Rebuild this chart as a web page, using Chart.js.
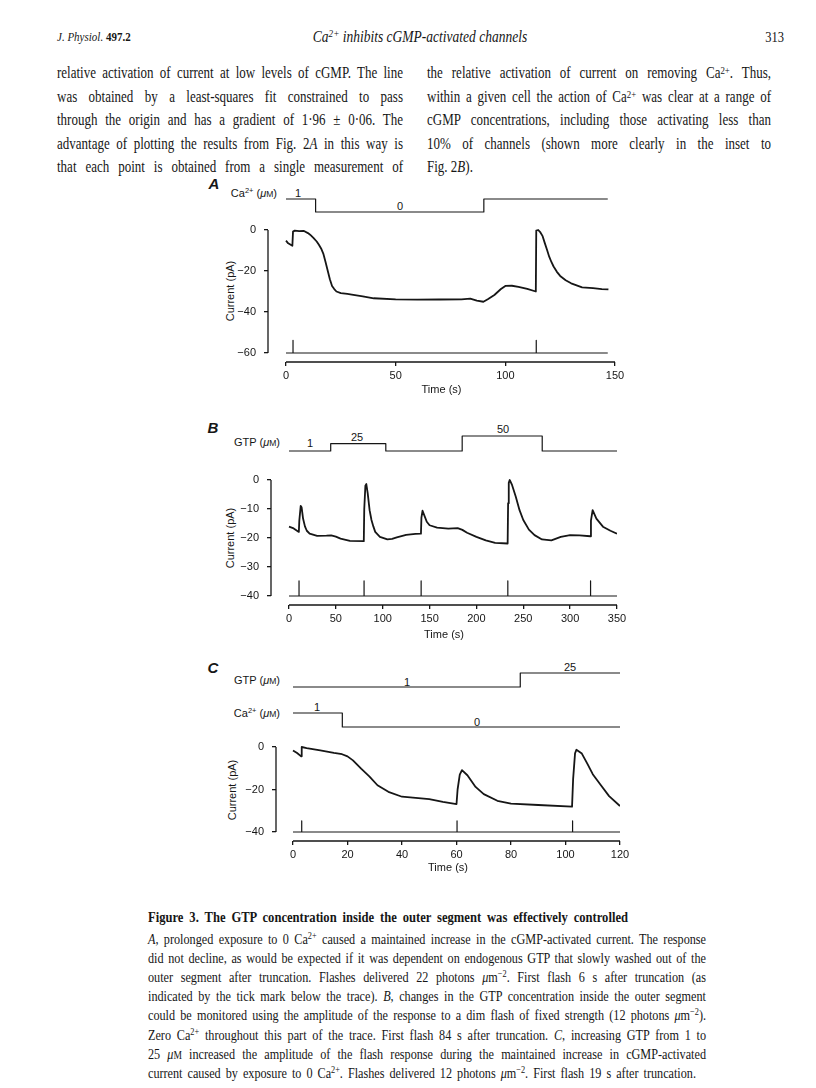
<!DOCTYPE html>
<html>
<head>
<meta charset="utf-8">
<script src="https://cdn.jsdelivr.net/npm/chart.js@4.4.1/dist/chart.umd.min.js"></script>
<style>
  body { margin: 0; background: #fff; }
  #page { position: relative; width: 816px; height: 1088px; overflow: hidden; background: #fff; color: #161616; }
  .serif { font-family: "Liberation Serif", "Times New Roman", serif; }
  .sans { font-family: "Liberation Sans", Arial, sans-serif; }
  .ln { position: absolute; white-space: nowrap; line-height: 1; transform: translateY(-50%); }
  .c { position: absolute; white-space: nowrap; line-height: 1; transform: translate(-50%, -50%); }
  .r { position: absolute; white-space: nowrap; line-height: 1; transform: translate(-100%, -50%); }
  .rot { position: absolute; white-space: nowrap; line-height: 1; transform: translate(-50%, -50%) rotate(-90deg); }
  .tall { transform: translateY(-50%) scaleY(1.22); }
  .tallc { transform: translate(-50%, -50%) scaleY(1.2); }
  .tallr { transform: translate(-100%, -50%) scaleY(1.2); }
  sup { font-size: 68%; vertical-align: 0.45em; line-height: 0; }
  .sm { font-size: 78%; }
  .panel { position: absolute; }
  .body { font-size: 13px; }
  .cap { font-size: 12.2px; }
  .lab { font-size: 11px; }
</style>
</head>
<body>
<div id="page">
  <!-- running head -->
  <div class="ln serif tall" style="left:57px;top:37px;font-size:11px"><i>J. Physiol.</i> <b>497.2</b></div>
  <div class="c serif tallc" style="left:420px;top:37px;font-size:13.5px"><i>Ca<sup>2+</sup> inhibits cGMP-activated channels</i></div>
  <div class="r serif tallr" style="left:784px;top:37px;font-size:12.5px">313</div>

  <!-- text columns -->
  <div class="ln serif body tall just" data-w="346" style="left:57px;top:73px">relative activation of current at low levels of cGMP. The line</div>
  <div class="ln serif body tall just" data-w="346" style="left:57px;top:96.5px">was obtained by a least-squares fit constrained to pass</div>
  <div class="ln serif body tall just" data-w="346" style="left:57px;top:120px">through the origin and has a gradient of 1·96 ± 0·06. The</div>
  <div class="ln serif body tall just" data-w="346" style="left:57px;top:143.5px">advantage of plotting the results from Fig. 2<i>A</i> in this way is</div>
  <div class="ln serif body tall just" data-w="346" style="left:57px;top:167px">that each point is obtained from a single measurement of</div>

  <div class="ln serif body tall just" data-w="344" style="left:427px;top:73px">the relative activation of current on removing Ca<sup>2+</sup>. Thus,</div>
  <div class="ln serif body tall just" data-w="344" style="left:427px;top:96.5px">within a given cell the action of Ca<sup>2+</sup> was clear at a range of</div>
  <div class="ln serif body tall just" data-w="344" style="left:427px;top:120px">cGMP concentrations, including those activating less than</div>
  <div class="ln serif body tall just" data-w="344" style="left:427px;top:143.5px">10% of channels (shown more clearly in the inset to</div>
  <div class="ln serif body tall" style="left:427px;top:167px">Fig. 2<i>B</i>).</div>

  <!-- panel A -->
  <div class="c sans" style="left:214px;top:183px;font-size:15px;font-style:italic;font-weight:bold">A</div>
  <div class="r sans lab" style="left:277px;top:193px">Ca<sup>2+</sup> (<i>μ</i><span class="sm">M</span>)</div>
  <div class="c sans lab" style="left:298px;top:193px">1</div>
  <div class="c sans lab" style="left:400px;top:206px">0</div>
  <div class="rot sans lab" style="left:230px;top:291px">Current (pA)</div>
  <div class="panel" id="wrapA"><canvas id="chartA"></canvas></div>

  <!-- panel B -->
  <div class="c sans" style="left:213px;top:427px;font-size:15px;font-style:italic;font-weight:bold">B</div>
  <div class="r sans lab" style="left:280px;top:442px">GTP (<i>μ</i><span class="sm">M</span>)</div>
  <div class="c sans lab" style="left:310px;top:443px">1</div>
  <div class="c sans lab" style="left:357px;top:437px">25</div>
  <div class="c sans lab" style="left:503px;top:429px">50</div>
  <div class="rot sans lab" style="left:230px;top:538px">Current (pA)</div>
  <div class="panel" id="wrapB"><canvas id="chartB"></canvas></div>

  <!-- panel C -->
  <div class="c sans" style="left:213px;top:667px;font-size:15px;font-style:italic;font-weight:bold">C</div>
  <div class="r sans lab" style="left:280px;top:680px">GTP (<i>μ</i><span class="sm">M</span>)</div>
  <div class="c sans lab" style="left:407px;top:682px">1</div>
  <div class="c sans lab" style="left:570px;top:667px">25</div>
  <div class="r sans lab" style="left:280px;top:713px">Ca<sup>2+</sup> (<i>μ</i><span class="sm">M</span>)</div>
  <div class="c sans lab" style="left:317px;top:707px">1</div>
  <div class="c sans lab" style="left:477px;top:722px">0</div>
  <div class="rot sans lab" style="left:232px;top:790px">Current (pA)</div>
  <div class="panel" id="wrapC"><canvas id="chartC"></canvas></div>

  <!-- legend -->
  <div class="ln serif cap tall just" data-w="480" style="left:148px;top:917px;font-size:12.6px;font-weight:bold">Figure 3. The GTP concentration inside the outer segment was effectively controlled</div>
  <div class="ln serif cap tall just" data-w="558" style="left:148px;top:939px"><i>A</i>, prolonged exposure to 0 Ca<sup>2+</sup> caused a maintained increase in the cGMP-activated current. The response</div>
  <div class="ln serif cap tall just" data-w="558" style="left:148px;top:958.1px">did not decline, as would be expected if it was dependent on endogenous GTP that slowly washed out of the</div>
  <div class="ln serif cap tall just" data-w="558" style="left:148px;top:977.2px">outer segment after truncation. Flashes delivered 22 photons <i>μ</i>m<sup>−2</sup>. First flash 6 s after truncation (as</div>
  <div class="ln serif cap tall just" data-w="558" style="left:148px;top:996.3px">indicated by the tick mark below the trace). <i>B</i>, changes in the GTP concentration inside the outer segment</div>
  <div class="ln serif cap tall just" data-w="558" style="left:148px;top:1015.4px">could be monitored using the amplitude of the response to a dim flash of fixed strength (12 photons <i>μ</i>m<sup>−2</sup>).</div>
  <div class="ln serif cap tall just" data-w="558" style="left:148px;top:1034.5px">Zero Ca<sup>2+</sup> throughout this part of the trace. First flash 84 s after truncation. <i>C</i>, increasing GTP from 1 to</div>
  <div class="ln serif cap tall just" data-w="558" style="left:148px;top:1053.6px">25 <i>μ</i><span class="sm">M</span> increased the amplitude of the flash response during the maintained increase in cGMP-activated</div>
  <div class="ln serif cap tall just" data-w="548" style="left:148px;top:1072.7px">current caused by exposure to 0 Ca<sup>2+</sup>. Flashes delivered 12 photons <i>μ</i>m<sup>−2</sup>. First flash 19 s after truncation.</div>
</div>

<script>
// ---- data ----

// A: 0 Ca2+ exposure
const timeA = [0, 1, 2.9, 3.2, 4, 6, 8, 10, 11, 12.5, 14, 15, 16, 17, 18, 19, 20, 21, 22, 23,
  25, 28, 30, 35, 40, 50, 60, 70, 80, 84, 87, 90, 92, 95, 98, 100, 103, 106, 110, 113.9,
  114.1, 115, 116, 117, 118, 119, 120, 121, 122, 123.5, 125, 127.5, 130, 135, 140, 144, 147];
const currentA = [-5.2, -6.5, -7.7, -0.8, -0.3, -0.5, -0.4, -1.5, -2.3, -3.8, -5.6, -7.2, -9, -11.5, -15.5, -19.8, -24, -27.3, -28.8, -30,
  -30.8, -31.2, -31.5, -32.4, -33.3, -33.8, -34, -33.9, -33.8, -33.5, -34.5, -35, -33.8, -31.7, -28.8, -27.3, -27.2, -27.7, -28.7, -30,
  -0.3, 0, -1.2, -3, -6.4, -9.6, -13, -15.6, -17.8, -20.4, -22.4, -24.5, -26, -28, -28.4, -28.8, -29];
const flashA = [3.2, 114.1];
const caTimeA = [0, 13.5, 90.2, 146.7];
const caLevelA = [1, 0, 1, 1];
const xTicksA = [0, 50, 100, 150];
const yTicksA = [0, -20, -40, -60];

// B: GTP steps
const timeB = [0, 5, 10.5, 11, 12.5, 13.5, 15, 17, 19, 22, 30, 40, 45, 50, 55, 65, 79.8, 80.3, 81.5, 82.5,
  84, 86, 88, 90, 92, 97, 105, 110, 115, 125, 135, 140.8, 141.3, 142.5, 145, 147, 150, 158, 170, 180,
  185, 190, 200, 210, 220, 233.3, 233.8, 234.5, 235.5, 238, 242, 246, 250, 256, 262, 270, 280, 290, 300, 310,
  321.6, 322.2, 324, 328, 335, 343, 350];
const currentB = [-16.1, -16.7, -17.9, -14, -8.9, -9.5, -13.3, -16, -17.5, -18.5, -19.3, -19.2, -19.1, -19.5, -20.2, -21, -21.1, -10, -2, -1.4,
  -4.6, -10.4, -13.8, -16, -17.9, -19.6, -20.5, -20.3, -19.8, -18.9, -18.6, -18.5, -13, -10.6, -12.7, -14.4, -15.6, -16.4, -16.8, -16.6,
  -17.2, -18.2, -19.6, -20.8, -21.7, -21.9, -8, -1, 0, -1.7, -5.8, -10.4, -13.8, -17.1, -19, -20.5, -20.8, -19.6, -19, -19.1,
  -19.4, -14, -10.4, -13.3, -16.1, -17.5, -18.5];
const flashB = [10.7, 80.1, 141, 233.5, 321.8];
const gtpTimeB = [0, 44.5, 103.3, 184.8, 270.2, 350];
const gtpLevelB = [1, 25, 1, 50, 1, 1];
const xTicksB = [0, 50, 100, 150, 200, 250, 300, 350];
const yTicksB = [0, -10, -20, -30, -40];

// C: GTP raised during 0 Ca2+
const timeC = [0, 1.5, 3, 3.2, 5, 10, 15, 18, 20, 22, 25, 28, 31, 35, 40, 45, 50, 55, 60, 60.4,
  61.2, 62, 64, 67, 70, 75, 80, 90, 102.4, 102.8, 103.5, 104, 106, 108, 110, 113, 116, 120];
const currentC = [-1.6, -2.8, -4.4, 0, -0.5, -1.6, -2.8, -3.4, -4.4, -6.3, -10.2, -13.8, -18, -21.1, -23.4, -23.9, -24.5, -25.8, -26.9, -20,
  -13, -10.9, -13.3, -18.8, -22.2, -25.3, -26.6, -27.3, -28.1, -15, -3, -1.3, -3.1, -7.8, -12.8, -18, -23.1, -27.8];
const flashC = [3.2, 60.2, 102.6];
const gtpTimeC = [0, 83.4, 120];
const gtpLevelC = [1, 25, 25];
const caTimeC = [0, 18.1, 120];
const caLevelC = [1, 0, 0];
const xTicksC = [0, 20, 40, 60, 80, 100, 120];
const yTicksC = [0, -20, -40];

// ---- drawing ----
const INK = '#161616';
const FONT = { family: '"Liberation Sans", Arial, sans-serif', size: 11 };
const YW = 80, PT = 18, PR = 24, PB = 4;

// value range of a scale so that v1 lands on pixel p1 and v2 on p2,
// given the pixel edges pa / pb of the plot area
function span(v1, p1, v2, p2, pa, pb) {
  const k = (v2 - v1) / (p2 - p1);
  const a = v1 + (pa - p1) * k, b = v1 + (pb - p1) * k;
  return { min: Math.min(a, b), max: Math.max(a, b) };
}

function pairs(xs, ys) {
  return xs.map((x, i) => ({ x: x, y: ys[i] }));
}

function flashMarks(times, end, base, h) {
  const pts = [{ x: 0, y: base }];
  times.forEach(t => pts.push({ x: t, y: base }, { x: t, y: base + h }, { x: t, y: base }));
  pts.push({ x: end, y: base });
  return pts;
}

function minus(v) {
  return v < 0 ? '\u2212' + Math.abs(v) : String(v);
}

// axis lines drawn only between first and last tick, detached from each other
const detachedAxes = {
  id: 'detachedAxes',
  afterDraw(chart) {
    const x = chart.scales.x, y = chart.scales.y;
    const ctx = chart.ctx;
    ctx.save();
    ctx.strokeStyle = INK;
    ctx.lineWidth = 1.3;
    ctx.beginPath();
    ctx.moveTo(x.getPixelForValue(x.ticks[0].value), x.top);
    ctx.lineTo(x.getPixelForValue(x.ticks[x.ticks.length - 1].value), x.top);
    ctx.moveTo(y.right, y.getPixelForValue(y.ticks[0].value));
    ctx.lineTo(y.right, y.getPixelForValue(y.ticks[y.ticks.length - 1].value));
    ctx.stroke();
    ctx.restore();
  }
};

function makePanel(wrapId, canvasId, g) {
  const a = g.area;
  const wrap = document.getElementById(wrapId);
  wrap.style.left = (a.left - YW) + 'px';
  wrap.style.top = (a.top - PT) + 'px';
  wrap.style.width = (a.right - a.left + YW + PR) + 'px';
  wrap.style.height = (a.bottom - a.top + PT + g.xh + PB) + 'px';

  const xt = g.xTicks, yt = g.yTicks;
  const scales = {
    x: {
      type: 'linear',
      ...span(xt[0], g.xPix[0], xt[xt.length - 1], g.xPix[1], a.left, a.right),
      afterBuildTicks: s => { s.ticks = xt.map(v => ({ value: v })); },
      afterFit: s => { s.height = g.xh; },
      border: { display: false },
      grid: { drawOnChartArea: false, tickLength: 4, color: INK, lineWidth: 1.3 },
      ticks: { font: FONT, color: INK, padding: 3, maxRotation: 0, autoSkip: false, callback: minus },
      title: { display: true, text: 'Time (s)', font: FONT, color: INK, padding: { top: 0, bottom: 4 } }
    },
    y: {
      type: 'linear',
      position: 'left',
      ...span(yt[0], g.yPix[0], yt[yt.length - 1], g.yPix[1], a.top, a.bottom),
      afterBuildTicks: s => { s.ticks = yt.map(v => ({ value: v })); },
      afterFit: s => { s.width = YW; },
      border: { display: false },
      grid: { drawOnChartArea: false, tickLength: 4, color: INK, lineWidth: 1.3 },
      ticks: { font: FONT, color: INK, padding: 8, autoSkip: false, callback: minus }
    }
  };

  const datasets = [
    { data: pairs(g.time, g.current), borderColor: INK, borderWidth: 1.8, yAxisID: 'y' },
    { data: flashMarks(g.flashes, g.flashEnd, yt[yt.length - 1], g.flashH), borderColor: INK, borderWidth: 1.2, yAxisID: 'y' }
  ];
  g.steps.forEach((st, i) => {
    const id = 'step' + i;
    scales[id] = { type: 'linear', display: false, position: 'right',
      ...span(st.pix[0], st.pix[1], st.pix[2], st.pix[3], a.top, a.bottom) };
    datasets.push({ data: pairs(st.t, st.v), stepped: 'before', borderColor: INK, borderWidth: 1.2, yAxisID: id });
  });

  return new Chart(document.getElementById(canvasId), {
    type: 'line',
    data: { datasets: datasets },
    options: {
      responsive: true,
      maintainAspectRatio: false,
      animation: false,
      events: [],
      layout: { padding: { left: 0, top: PT, right: PR, bottom: PB }, autoPadding: false },
      elements: { point: { radius: 0 }, line: { tension: 0, borderJoinStyle: 'round', borderCapStyle: 'butt' } },
      plugins: { legend: { display: false }, tooltip: { enabled: false } },
      scales: scales
    },
    plugins: [detachedAxes]
  });
}

// pixel anchors: [value, pixel] pairs for each scale
makePanel('wrapA', 'chartA', {
  area: { left: 268, right: 615, top: 188, bottom: 362 }, xh: 39,
  xTicks: xTicksA, yTicks: yTicksA, xPix: [286, 615], yPix: [230, 353],
  time: timeA, current: currentA, flashes: flashA, flashEnd: 146.7, flashH: 6.2,
  steps: [{ t: caTimeA, v: caLevelA, pix: [1, 199, 0, 212] }]
});

makePanel('wrapB', 'chartB', {
  area: { left: 271, right: 617, top: 428, bottom: 605 }, xh: 41,
  xTicks: xTicksB, yTicks: yTicksB, xPix: [289, 617], yPix: [480, 596],
  time: timeB, current: currentB, flashes: flashB, flashEnd: 350, flashH: 5.2,
  steps: [{ t: gtpTimeB, v: gtpLevelB, pix: [1, 451, 50, 436] }]
});

makePanel('wrapC', 'chartC', {
  area: { left: 276, right: 620, top: 666, bottom: 841 }, xh: 38,
  xTicks: xTicksC, yTicks: yTicksC, xPix: [293, 620], yPix: [747, 832],
  time: timeC, current: currentC, flashes: flashC, flashEnd: 120, flashH: 5.2,
  steps: [
    { t: gtpTimeC, v: gtpLevelC, pix: [1, 687, 25, 673] },
    { t: caTimeC, v: caLevelC, pix: [1, 713, 0, 727] }
  ]
});

// justify the single text lines to their column width
document.querySelectorAll('.just').forEach(el => {
  const target = parseFloat(el.dataset.w);
  const natural = el.getBoundingClientRect().width;
  const gaps = (el.textContent.match(/ /g) || []).length;
  if (gaps) el.style.wordSpacing = ((target - natural) / gaps) + 'px';
});
</script>
</body>
</html>
